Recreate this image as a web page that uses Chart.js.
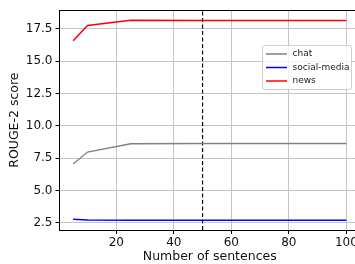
<!DOCTYPE html>
<html>
<head>
<meta charset="utf-8">
<script src="https://cdn.jsdelivr.net/npm/chart.js@4"></script>
<style>
  html, body { margin: 0; padding: 0; background: #fff; overflow: hidden; }
  #wrap { width: 355px; height: 264px; overflow: hidden; }
</style>
</head>
<body>
<div id="wrap"><canvas id="scoreChart" width="362" height="264"></canvas></div>
<script>
// data
const sentenceCounts = [5, 10, 25, 50, 100];
const chatScores = [7.06, 7.98, 8.62, 8.64, 8.64];
const socialScores = [2.78, 2.72, 2.7, 2.7, 2.7];
const newsScores = [16.58, 17.77, 18.17, 18.15, 18.15];
const cutoffX = 50;
const yTicks = [2.5, 5.0, 7.5, 10.0, 12.5, 15.0, 17.5];
const xTicks = [20, 40, 60, 80, 100];

const Y_MIN = 1.95;
const Y_MAX = 18.95;

function toPoints(values) {
  return sentenceCounts.map((x, i) => ({ x, y: values[i] }));
}

// legend box drawn inside the plot, like matplotlib's
const boxLegend = {
  id: 'boxLegend',
  afterDatasetsDraw(chart) {
    const ctx = chart.ctx;
    const items = chart.data.datasets.filter((d) => !d.hideInLegend);
    const x0 = 262.5, y0 = 45.5, w = 89, h = 44;
    ctx.save();
    ctx.fillStyle = 'rgba(255,255,255,0.8)';
    ctx.strokeStyle = '#d0d0d0';
    ctx.lineWidth = 1;
    ctx.beginPath();
    ctx.roundRect(x0, y0, w, h, 2);
    ctx.fill();
    ctx.stroke();
    ctx.font = '9px "DejaVu Sans"';
    ctx.textBaseline = 'middle';
    items.forEach((d, i) => {
      const y = 54 + i * 13.5;
      ctx.strokeStyle = d.borderColor;
      ctx.lineWidth = 1.5;
      ctx.beginPath();
      ctx.moveTo(266, y);
      ctx.lineTo(287, y);
      ctx.stroke();
      ctx.fillStyle = '#222';
      ctx.fillText(d.label, 292.5, y);
    });
    ctx.restore();
  },
};

// top spine
const frame = {
  id: 'frame',
  afterDraw(chart) {
    const { ctx, chartArea } = chart;
    ctx.save();
    ctx.strokeStyle = '#000';
    ctx.lineWidth = 1;
    ctx.beginPath();
    ctx.moveTo(chartArea.left, Math.round(chartArea.top) + 0.5);
    ctx.lineTo(chartArea.right, Math.round(chartArea.top) + 0.5);
    ctx.moveTo(Math.round(chartArea.right) - 0.5, chartArea.top);
    ctx.lineTo(Math.round(chartArea.right) - 0.5, chartArea.bottom);
    ctx.stroke();
    ctx.restore();
  },
};

Chart.defaults.font.family = '"DejaVu Sans"';
Chart.defaults.color = '#111';

const ctx = document.getElementById('scoreChart').getContext('2d');

const config = {
  type: 'line',
  data: {
    datasets: [
      {
        label: 'chat',
        data: toPoints(chatScores),
        borderColor: '#808080',
        borderWidth: 1.3,
        pointRadius: 0,
        tension: 0,
      },
      {
        label: 'social-media',
        data: toPoints(socialScores),
        borderColor: '#0000ff',
        borderWidth: 1.5,
        pointRadius: 0,
        tension: 0,
      },
      {
        label: 'news',
        data: toPoints(newsScores),
        borderColor: '#ff0000',
        borderWidth: 1.5,
        pointRadius: 0,
        tension: 0,
      },
      {
        label: 'cutoff',
        hideInLegend: true,
        data: [
          { x: cutoffX, y: Y_MIN },
          { x: cutoffX, y: Y_MAX },
        ],
        borderColor: '#000',
        borderWidth: 1.2,
        borderDash: [4, 2.5],
        pointRadius: 0,
      },
    ],
  },
  options: {
    responsive: false,
    animation: false,
    devicePixelRatio: 1,
    layout: { padding: { top: 7, right: 2, left: 0, bottom: 0 } },
    scales: {
      x: {
        type: 'linear',
        min: 0.25,
        max: 104.75,
        afterFit: (scale) => { scale.height = 34; },
        afterBuildTicks: (scale) => { scale.ticks = xTicks.map((v) => ({ value: v })); },
        ticks: {
          font: { size: 12 },
          padding: 2,
          maxRotation: 0,
          callback: (v) => String(v),
        },
        grid: { color: '#c4c4c4', lineWidth: 1, tickColor: '#000', tickLength: 4 },
        border: { display: true, color: '#000', width: 1 },
        title: { display: true, text: 'Number of sentences', font: { size: 12.5 }, padding: 0 },
      },
      y: {
        min: Y_MIN,
        max: Y_MAX,
        afterFit: (scale) => { scale.width = 59.5; },
        afterBuildTicks: (scale) => { scale.ticks = yTicks.map((v) => ({ value: v })); },
        ticks: {
          font: { size: 12 },
          padding: 3,
          callback: (v) => Number(v).toFixed(1),
        },
        grid: { color: '#c4c4c4', lineWidth: 1, tickColor: '#000', tickLength: 4 },
        border: { display: true, color: '#000', width: 1 },
        title: { display: true, text: 'ROUGE-2 score', font: { size: 12.5 }, padding: { top: 7, bottom: 0 } },
      },
    },
    plugins: {
      legend: { display: false },
      tooltip: { enabled: false },
    },
  },
  plugins: [boxLegend, frame],
};

const scoreChartInstance = new Chart(ctx, config);
</script>
</body>
</html>
